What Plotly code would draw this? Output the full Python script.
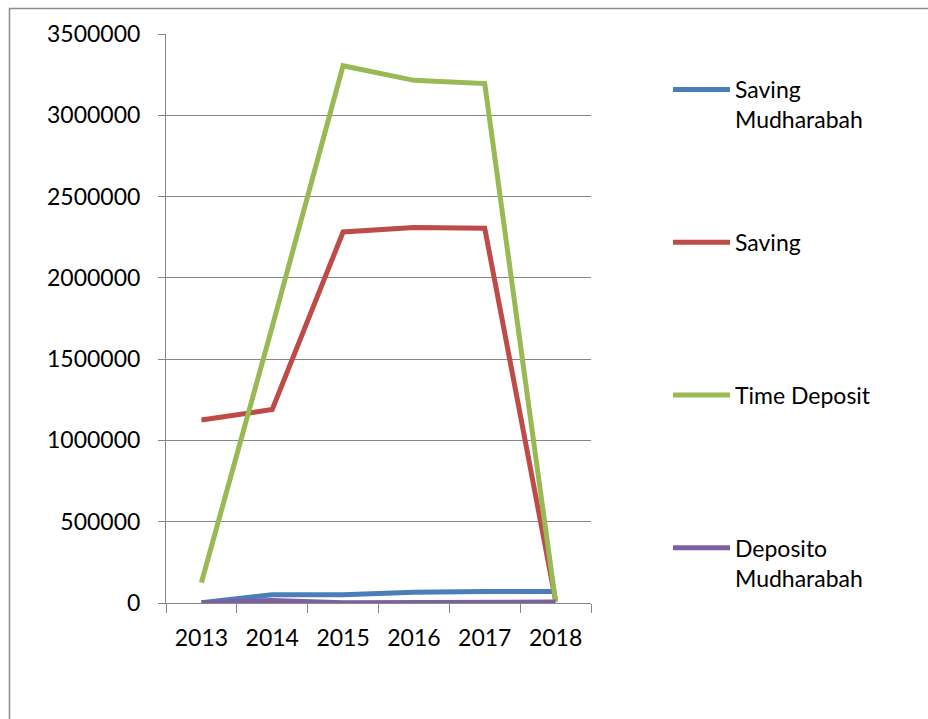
import plotly.graph_objects as go

years = ["2013", "2014", "2015", "2016", "2017", "2018"]
saving_mudharabah = [2000, 51000, 51000, 66000, 70000, 70000]
saving = [1126000, 1190000, 2282000, 2310000, 2305000, 15000]
time_deposit = [125000, 1700000, 3305000, 3215000, 3195000, 5000]
deposito_mudharabah = [2000, 16000, 2000, 4000, 4000, 6000]

series_names = ["Saving<br>Mudharabah", "Saving<br>\u00a0", "Time Deposit<br>\u00a0", "Deposito<br>Mudharabah"]
series_values = [saving_mudharabah, saving, time_deposit, deposito_mudharabah]
series_colors = ["#4A7EBB", "#BE4B48", "#98B954", "#7D60A0"]

y_ticks = [0, 500000, 1000000, 1500000, 2000000, 2500000, 3000000, 3500000]

FONT = "Lato"
W, H = 928, 719
ML, MR, MT, MB = 166, 337, 34, 116
PW, PH = W - ML - MR, H - MT - MB

fig = go.Figure()
for i, (name, vals, col) in enumerate(zip(series_names, series_values, series_colors)):
    fig.add_trace(go.Scatter(
        x=years, y=vals, name=name, mode="lines",
        line=dict(color=col, width=5),
        legendgroup=f"g{i}",
    ))

def px_x(p):
    return (p - ML) / PW

def px_y(p):
    return (H - MB - p) / PH

fig.update_layout(
    width=W, height=H,
    margin=dict(l=ML, r=MR, t=MT, b=MB, pad=0),
    paper_bgcolor="white", plot_bgcolor="white",
    font=dict(family=FONT, size=23, color="#000000"),
    showlegend=True,
    legend=dict(
        x=px_x(668), y=px_y(68), xanchor="left", yanchor="top",
        xref="paper", yref="paper",
        valign="top", tracegroupgap=90,
        itemwidth=57,
        font=dict(family=FONT, size=23, color="#000000"),
        bgcolor="rgba(0,0,0,0)",
    ),
    xaxis=dict(
        type="category", range=[-0.5, 5.5],
        tickson="boundaries", ticks="outside", ticklen=9, tickcolor="#868686", tickwidth=1,
        showline=True, linecolor="#868686", linewidth=1,
        showgrid=False, zeroline=False,
        ticklabelstandoff=14,
    ),
    yaxis=dict(
        range=[0, 3500000], tickvals=y_ticks,
        ticktext=[str(v) for v in y_ticks],
        ticks="outside", ticklen=7, tickcolor="#868686", tickwidth=1,
        showline=True, linecolor="#868686", linewidth=1,
        showgrid=True, gridcolor="#868686", gridwidth=1,
        zeroline=False,
        ticklabelstandoff=13,
    ),
    shapes=[dict(
        type="rect", xref="paper", yref="paper",
        x0=px_x(9.5), x1=px_x(W + 20), y0=px_y(H + 20), y1=px_y(8.5),
        line=dict(color="#8C8C8C", width=1.5), fillcolor="rgba(0,0,0,0)",
        layer="below",
    )],
)

fig.write_html("out.html")
